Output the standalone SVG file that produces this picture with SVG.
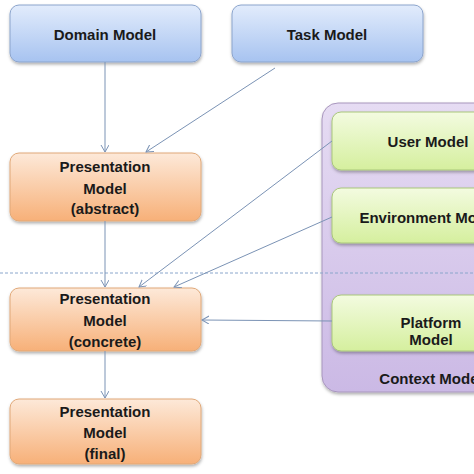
<svg xmlns="http://www.w3.org/2000/svg" width="474" height="474" viewBox="0 0 474 474">
<defs>
<linearGradient id="gBlue" x1="0" y1="0" x2="0" y2="1"><stop offset="0" stop-color="#e2ecfc"/><stop offset="1" stop-color="#a7c3f0"/></linearGradient>
<linearGradient id="gOrange" x1="0" y1="0" x2="0" y2="1"><stop offset="0" stop-color="#fde9d9"/><stop offset="1" stop-color="#f7b078"/></linearGradient>
<linearGradient id="gGreen" x1="0" y1="0" x2="0" y2="1"><stop offset="0" stop-color="#f3fbe0"/><stop offset="1" stop-color="#d5ef9e"/></linearGradient>
<linearGradient id="gPurple" x1="0" y1="0" x2="0" y2="1"><stop offset="0" stop-color="#e6dcf3"/><stop offset="1" stop-color="#cbb9e5"/></linearGradient>
<filter id="sh" x="-10%" y="-10%" width="120%" height="130%"><feDropShadow dx="0.5" dy="2" stdDeviation="1.5" flood-color="#000" flood-opacity="0.3"/></filter>
<marker id="arr" markerUnits="userSpaceOnUse" markerWidth="10" markerHeight="10" refX="7" refY="4" orient="auto"><path d="M0,0 L7,4 L0,8" fill="none" stroke="#7b93b5" stroke-width="1"/></marker>
</defs>
<style>
.blue{fill:url(#gBlue);stroke:#8ba4cc;stroke-width:1;filter:url(#sh)}
.orange{fill:url(#gOrange);stroke:#e0a878;stroke-width:1;filter:url(#sh)}
.green{fill:url(#gGreen);stroke:#a9c77a;stroke-width:1;filter:url(#sh)}
.purple{fill:url(#gPurple);stroke:#a896bd;stroke-width:1;filter:url(#sh)}
text{font-family:"Liberation Sans",Arial,sans-serif;font-weight:bold;font-size:15px;fill:#1a1a1a;text-anchor:middle}
.conn{stroke:#7b93b5;stroke-width:1;fill:none;marker-end:url(#arr)}
.dash{stroke:#8aa6cc;stroke-width:1;stroke-dasharray:3,2;fill:none}
</style>
<rect width="474" height="474" fill="#ffffff"/>
<g id="context-model">
<rect class="purple" x="322" y="103" width="230" height="289" rx="16"/>
<text x="431" y="384">Context Model</text>
</g>
<line class="dash" x1="0" y1="273" x2="474" y2="273"/>
<g id="domain-model">
<rect class="blue" x="10" y="5" width="191" height="57" rx="9"/>
<text x="105" y="40">Domain Model</text>
</g>
<g id="task-model">
<rect class="blue" x="232" y="5" width="191" height="57" rx="9"/>
<text x="327" y="40">Task Model</text>
</g>
<g id="user-model">
<rect class="green" x="332" y="112" width="192" height="58" rx="9"/>
<text x="428" y="147">User Model</text>
</g>
<g id="environment-model">
<rect class="green" x="332" y="188" width="192" height="55" rx="9"/>
<text x="429" y="223">Environment Model</text>
</g>
<g id="platform-model">
<rect class="green" x="332" y="295" width="192" height="56" rx="9"/>
<text x="431" y="328">Platform</text>
<text x="431" y="345">Model</text>
</g>
<g id="presentation-abstract">
<rect class="orange" x="10" y="153" width="191" height="68" rx="9"/>
<text x="105" y="172">Presentation</text>
<text x="105" y="194">Model</text>
<text x="105" y="214">(abstract)</text>
</g>
<g id="presentation-concrete">
<rect class="orange" x="10" y="288" width="191" height="63" rx="9"/>
<text x="105" y="304">Presentation</text>
<text x="105" y="326">Model</text>
<text x="105" y="347">(concrete)</text>
</g>
<g id="presentation-final">
<rect class="orange" x="10" y="399" width="191" height="65" rx="9"/>
<text x="105" y="417">Presentation</text>
<text x="105" y="438">Model</text>
<text x="105" y="459">(final)</text>
</g>
<g id="connectors">
<line class="conn" x1="105" y1="62" x2="105" y2="152"/>
<line class="conn" x1="275" y1="68" x2="146" y2="152"/>
<line class="conn" x1="105" y1="221" x2="105" y2="287"/>
<line class="conn" x1="332" y1="141" x2="139" y2="287"/>
<line class="conn" x1="332" y1="217" x2="174" y2="287"/>
<line class="conn" x1="332" y1="321" x2="202" y2="320"/>
<line class="conn" x1="105" y1="351" x2="105" y2="398"/>
</g>
</svg>
